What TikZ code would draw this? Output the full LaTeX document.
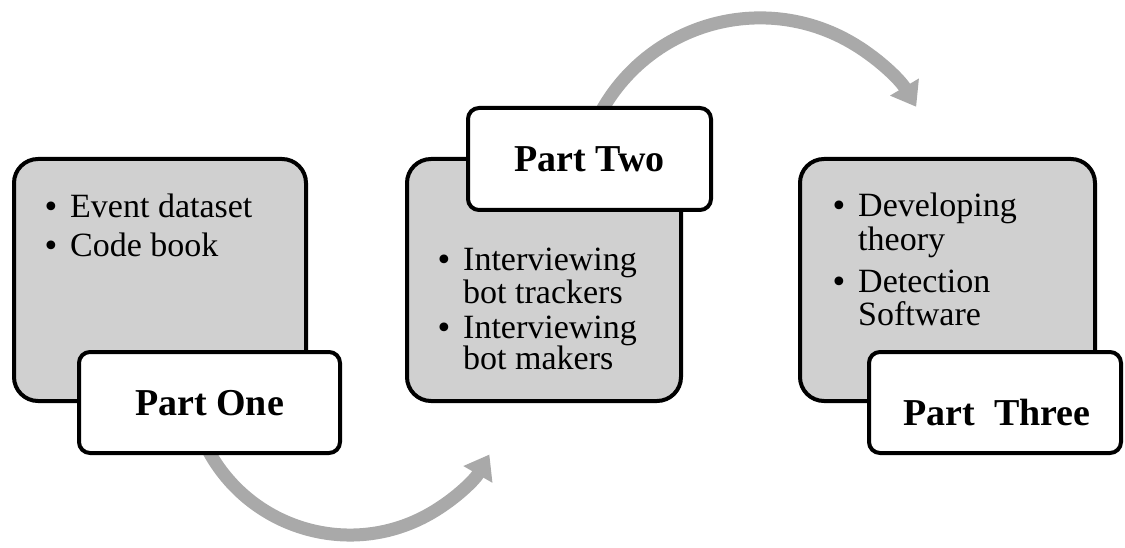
\documentclass[tikz,border=0pt]{standalone}
\usepackage{fontspec}
\setmainfont{Liberation Serif}
\newfontfamily\bulfont{DejaVu Sans}
\usetikzlibrary{arrows.meta}
\definecolor{boxgray}{HTML}{D0D0D0}
\definecolor{arrowgray}{HTML}{A9A9A9}
\newcommand{\bigbul}{\llap{\makebox[38pt][c]{{\bulfont\fontsize{30}{30}\selectfont •}}}}
\begin{document}
\begin{tikzpicture}[x=1pt,y=-1pt,
  graybox/.style={draw=black, line width=4pt, fill=boxgray, rounded corners=24pt, inner sep=0pt},
  whitebox/.style={draw=black, line width=4pt, fill=white, rounded corners=11pt, inner sep=0pt},
  body/.style={font=\fontsize{34}{40}\selectfont, inner sep=0pt, anchor=base west},
  title/.style={font=\fontsize{38}{45}\selectfont\bfseries, inner sep=0pt, anchor=base},
  flow/.style={draw=arrowgray, line width=13pt, -{Triangle[length=23pt,width=32pt]}}
]
\useasboundingbox (0,0) rectangle (1125,548);

% gray content boxes
\node[graybox, minimum width=292pt, minimum height=242pt] (g1) at (160,280) {};
\node[graybox, minimum width=274pt, minimum height=242pt] (g2) at (544,280) {};
\node[graybox, minimum width=295pt, minimum height=242pt] (g3) at (947.5,280) {};

% curved arrows
\coordinate (a1s) at (207.8,449.6);
\draw[flow] (a1s) arc[start angle=152, end angle=30, radius=161];
\coordinate (a2s) at (602,110.1);
\draw[flow] (a2s) arc[start angle=209.5, end angle=329.3, radius=181.6];

% white title boxes
\node[whitebox, minimum width=261pt, minimum height=101pt] (w1) at (209.5,402.5) {};
\node[whitebox, minimum width=243pt, minimum height=102pt] (w2) at (589.5,159) {};
\node[whitebox, minimum width=252pt, minimum height=101pt] (w3) at (995,402.5) {};

\node[title] (p1) at (209.5,415) {Part One};
\node[title] (p2) at (589.5,172) {Part Two};
\node[title] (p3) at (997,425) {Part\ \ Three};

% box 1 text
\node[body] (t1a) at (70,218) {\bigbul Event dataset};
\node[body] (t1b) at (70,257) {\bigbul Code book};

% box 2 text
\node[body] (t2a) at (463,271) {\bigbul Interviewing};
\node[body] (t2b) at (463,303) {bot trackers};
\node[body] (t2c) at (463,338) {\bigbul Interviewing};
\node[body] (t2d) at (463,369) {bot makers};

% box 3 text
\node[body] (t3a) at (858,217) {\bigbul Developing};
\node[body] (t3b) at (858,251) {theory};
\node[body] (t3c) at (858,292) {\bigbul Detection};
\node[body] (t3d) at (858,325) {Software};
\end{tikzpicture}
\end{document}
